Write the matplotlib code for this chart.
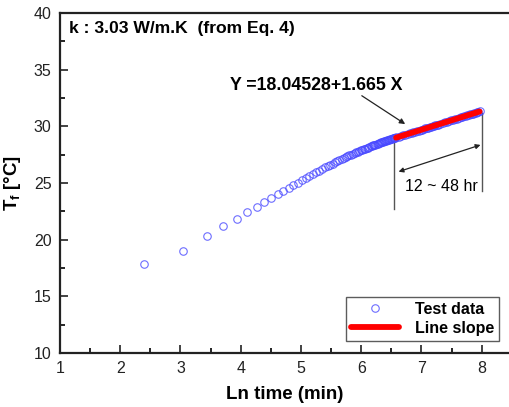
import numpy as np
import matplotlib
matplotlib.use("Agg")
import matplotlib.pyplot as plt

plt.rcParams['font.family'] = ['Liberation Sans', 'DejaVu Sans']
plt.rcParams['mathtext.fontset'] = 'custom'
plt.rcParams['mathtext.rm'] = 'Liberation Sans:bold'
plt.rcParams['mathtext.bf'] = 'Liberation Sans:bold'
plt.rcParams['mathtext.it'] = 'Liberation Sans:bold'

# elapsed time (min) and fluid temperature (deg C)
time_min = [11, 21, 31, 41, 51, 61, 71, 81, 91, 101, 111, 121,
            131, 141, 151, 161, 171, 181, 191, 201, 211, 221, 231, 241,
            251, 261, 271, 281, 291, 301, 311, 321, 331, 341, 351, 361,
            371, 381, 391, 401, 411, 421, 431, 441, 451, 461, 471, 481,
            491, 501, 511, 521, 531, 541, 551, 561, 571, 581, 591, 601,
            611, 621, 631, 641, 651, 661, 671, 681, 691, 701, 711, 721,
            751, 781, 811, 841, 871, 901, 931, 961, 991, 1021, 1051, 1081,
            1111, 1141, 1171, 1201, 1231, 1261, 1291, 1321, 1351, 1381, 1411, 1441,
            1501, 1561, 1621, 1681, 1741, 1801, 1861, 1921, 1981, 2041, 2101, 2161,
            2221, 2281, 2341, 2401, 2461, 2521, 2581, 2641, 2701, 2761, 2821, 2881]
temp_c = [17.85, 19.03, 20.30, 21.18, 21.85, 22.40, 22.90, 23.33, 23.70, 24.03, 24.32, 24.58,
          24.82, 25.04, 25.24, 25.44, 25.62, 25.79, 25.95, 26.09, 26.23, 26.37, 26.49, 26.61,
          26.72, 26.82, 26.92, 27.01, 27.10, 27.19, 27.27, 27.35, 27.43, 27.50, 27.57, 27.63,
          27.70, 27.76, 27.82, 27.88, 27.93, 27.98, 28.04, 28.08, 28.13, 28.18, 28.23, 28.27,
          28.31, 28.35, 28.39, 28.43, 28.47, 28.51, 28.54, 28.58, 28.61, 28.65, 28.68, 28.71,
          28.74, 28.77, 28.80, 28.83, 28.86, 28.88, 28.91, 28.94, 28.96, 28.99, 29.01, 29.03,
          29.07, 29.13, 29.20, 29.26, 29.32, 29.37, 29.43, 29.48, 29.53, 29.58, 29.63, 29.68,
          29.72, 29.77, 29.81, 29.85, 29.89, 29.93, 29.97, 30.01, 30.05, 30.08, 30.12, 30.15,
          30.22, 30.29, 30.35, 30.41, 30.47, 30.53, 30.58, 30.63, 30.68, 30.73, 30.78, 30.83,
          30.88, 30.92, 30.96, 31.00, 31.05, 31.09, 31.13, 31.16, 31.20, 31.24, 31.27, 31.31]

fit_intercept = 18.04528
fit_slope = 1.665
fit_range_hr = [12, 48]

x_ticks = [1, 2, 3, 4, 5, 6, 7, 8]
y_ticks = [10, 15, 20, 25, 30, 35, 40]

ln_t = np.log(np.array(time_min, dtype=float))
fit_x = np.log(np.array(fit_range_hr, dtype=float) * 60.0)
fit_y = fit_intercept + fit_slope * fit_x

fig = plt.figure(figsize=(5.10, 4.07), dpi=100)
ax = fig.add_axes([60 / 510, 54 / 407, 450 / 510, 340 / 407])

ax.plot(ln_t, temp_c, linestyle='none', marker='o', markersize=5.4,
        markerfacecolor='none', markeredgecolor='#4848ff', markeredgewidth=0.8,
        alpha=0.8, label='Test data', zorder=3)
ax.plot(fit_x, fit_y, color='#ff0000', linewidth=4.2, solid_capstyle='round',
        label='Line slope', zorder=4)

ax.set_xlim(1, 8.47)
ax.set_ylim(10, 40)
ax.set_xticks(x_ticks)
ax.set_yticks(y_ticks)
ax.set_xticks(np.arange(1.5, 8.5, 1.0), minor=True)
ax.set_yticks(np.arange(12.5, 40, 5.0), minor=True)
ax.tick_params(axis='both', which='major', direction='in', length=6, width=1.2,
               labelsize=11.5, colors='#222222', pad=6)
ax.tick_params(axis='both', which='minor', direction='in', length=3.5, width=1.2)
ax.tick_params(top=False, right=False, which='both')
for s in ['left', 'bottom', 'top']:
    ax.spines[s].set_linewidth(1.6)
    ax.spines[s].set_color('#222222')
ax.spines['right'].set_visible(False)

ax.set_xlabel('Ln time (min)', fontsize=13.5, fontweight='bold', labelpad=7)
ax.set_ylabel(r'$\mathbf{T_f}$ [°C]', fontsize=13.5, fontweight='bold', labelpad=8)

ax.text(1.15, 38.6, 'k : 3.03 W/m.K  (from Eq. 4)', fontsize=12.6, fontweight='bold',
        va='center', ha='left')
ax.text(3.83, 33.6, 'Y =18.04528+1.665 X', fontsize=12.8, fontweight='bold',
        va='center', ha='left')
ax.annotate('', xy=(6.73, 30.2), xytext=(6.01, 32.7),
            arrowprops=dict(arrowstyle='-|>', color='#222222', lw=0.9,
                            mutation_scale=8, shrinkA=0, shrinkB=0))
ax.plot([6.54, 6.54], [22.68, 29.1], color='#555555', lw=1.0, zorder=2)
ax.plot([8.01, 8.01], [24.3, 31.15], color='#555555', lw=1.0, zorder=2)
ax.annotate('', xy=(6.62, 26.0), xytext=(7.98, 28.36),
            arrowprops=dict(arrowstyle='<|-|>', color='#222222', lw=0.9,
                            mutation_scale=7, shrinkA=0, shrinkB=0))
ax.text(7.33, 24.7, '12 ~ 48 hr', fontsize=11.5, va='center', ha='center')

leg = ax.legend(loc='lower right', bbox_to_anchor=(0.982, 0.027),
                prop={'weight': 'bold', 'size': 11.5}, frameon=True, fancybox=False,
                handlelength=3.0, handletextpad=1.0, borderpad=0.3, labelspacing=0.25,
                borderaxespad=0.2)
leg.get_frame().set_edgecolor('#333333')
leg.get_frame().set_linewidth(1.0)

fig.savefig('out.png', dpi=100)
